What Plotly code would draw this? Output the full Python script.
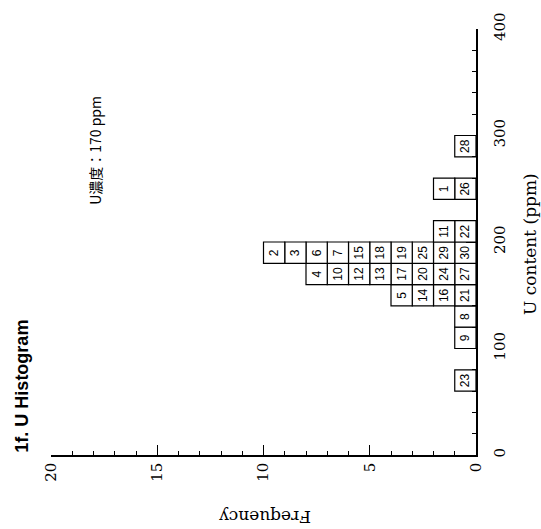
import plotly.graph_objects as go

# ---- data ----
bin_low = [60, 100, 120, 140, 160, 180, 200, 240, 280]   # ppm, bin start (20 ppm bins)
bin_width = 20
bin_samples = [
    [23],
    [9],
    [8],
    [21, 16, 14, 5],
    [27, 24, 20, 17, 13, 12, 10, 4],
    [30, 29, 25, 19, 18, 15, 7, 6, 3, 2],
    [22, 11],
    [26, 1],
    [28],
]
freq_ticks = [0, 5, 10, 15, 20]
u_ticks = [0, 100, 200, 300, 400]

# build boxes (one per sample)
ys, bases, xs, labels = [], [], [], []
for lo, samp in zip(bin_low, bin_samples):
    for level, s in enumerate(samp):
        ys.append(lo + bin_width / 2)
        bases.append(level)
        xs.append(1)
        labels.append(str(s))

fig = go.Figure()
fig.add_trace(go.Bar(
    orientation="h",
    y=ys, x=xs, base=bases, width=bin_width,
    text=labels, textposition="inside", insidetextanchor="middle",
    textangle=-90, constraintext="none",
    textfont=dict(family="Liberation Sans, Arial", size=12, color="black"),
    marker=dict(color="white", line=dict(color="black", width=1.2)),
    hoverinfo="skip", showlegend=False,
))

serif = "DejaVu Serif, Liberation Serif, serif"
fig.update_layout(
    width=541, height=529,
    margin=dict(l=51, r=65, t=25, b=74, pad=0),
    paper_bgcolor="white", plot_bgcolor="white",
    barmode="overlay",
    xaxis=dict(
        range=[20, 0], tickmode="array", tickvals=freq_ticks,
        ticks="inside", ticklen=10, tickwidth=1.2, tickcolor="black",
        minor=dict(dtick=1, ticks="inside", ticklen=4, tickwidth=1, tickcolor="black"),
        showline=True, linecolor="black", linewidth=1.5,
        showgrid=False, zeroline=False, tickangle=-90,
        tickfont=dict(family=serif, size=15, color="black"),
    ),
    yaxis=dict(
        range=[0, 400], side="right", tickmode="array", tickvals=u_ticks,
        ticks="inside", ticklen=10, tickwidth=1.2, tickcolor="black",
        minor=dict(dtick=20, ticks="inside", ticklen=4, tickwidth=1, tickcolor="black"),
        showline=True, linecolor="black", linewidth=1.5,
        showgrid=False, zeroline=False, tickangle=-90, ticklabelstandoff=9,
        tickfont=dict(family=serif, size=15, color="black"),
    ),
)

W, L, B, T = 425.0, 51.0, 455.0, 430.0


def px(xp, yp):
    return (xp - L) / W, (B - yp) / T


def note(text, cx, cy, angle, font):
    xp, yp = px(cx, cy)
    fig.add_annotation(text=text, xref="paper", yref="paper", x=xp, y=yp,
                       xanchor="center", yanchor="middle",
                       showarrow=False, textangle=angle, font=font)


note("Frequency", 265, 517, 180, dict(family=serif, size=17, color="black"))
note("U content (ppm)", 530, 242, -90, dict(family=serif, size=17, color="black"))
note("<b>1f. U Histogram</b>", 22, 386, -90,
     dict(family="Liberation Sans, Arial", size=18, color="black"))
note("U濃度：170 ppm", 95, 148, -90,
     dict(family="Noto Sans CJK JP, Noto Sans", size=14, color="black"))

fig.write_html("out.html")
